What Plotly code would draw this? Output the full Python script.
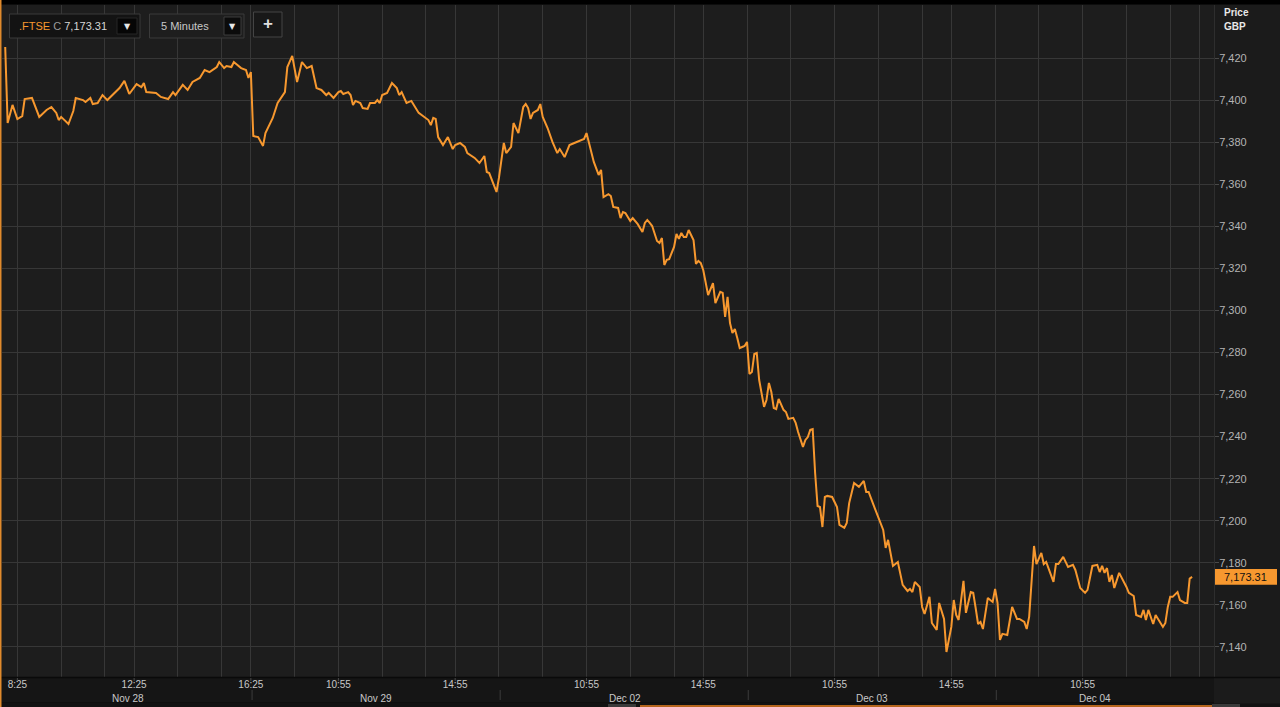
import plotly.graph_objects as go

W, H = 1280, 707

# ---------------- data ----------------
days = ["Nov 28", "Nov 29", "Dec 02", "Dec 03", "Dec 04"]

nov28_time = ["08:00", "08:05", "08:15", "08:25", "08:35", "08:40", "08:55", "09:10", "09:25", "09:35",
              "09:45", "09:50", "09:55", "10:10", "10:20", "10:25", "10:40", "10:45", "10:55", "11:00",
              "11:10", "11:20", "11:30", "11:45", "11:55", "12:05", "12:15", "12:30", "12:40", "12:45",
              "12:50", "13:10", "13:20", "13:35", "13:45", "13:50", "14:05", "14:15", "14:25", "14:40",
              "14:50", "15:00", "15:10", "15:15", "15:20", "15:30", "15:35", "15:45", "15:50", "16:05",
              "16:15", "16:20", "16:25"]
nov28_price = [7425.2, 7389.1, 7397.7, 7391.0, 7392.4, 7400.5, 7401.0, 7392.0, 7395.3, 7396.7,
               7393.9, 7390.5, 7392.0, 7388.6, 7394.8, 7401.0, 7400.0, 7399.1, 7401.0, 7398.1,
               7398.6, 7402.4, 7400.0, 7403.4, 7405.7, 7409.1, 7402.9, 7407.6, 7406.2, 7408.1,
               7403.8, 7403.4, 7401.5, 7400.5, 7403.8, 7402.4, 7407.2, 7404.8, 7408.6, 7410.5,
               7414.3, 7413.3, 7414.8, 7415.7, 7418.1, 7415.2, 7416.2, 7415.7, 7418.1, 7415.2,
               7414.3, 7410.5, 7413.3]

nov29_time = ["08:00", "08:10", "08:20", "08:25", "08:40", "08:50", "09:05", "09:10", "09:20", "09:30",
              "09:40", "09:50", "10:00", "10:10", "10:20", "10:30", "10:35", "10:45", "10:55", "11:00",
              "11:05", "11:15", "11:20", "11:25", "11:30", "11:40", "11:45", "11:55", "12:00", "12:10",
              "12:15", "12:20", "12:25", "12:35", "12:45", "12:55", "13:00", "13:05", "13:15", "13:25",
              "13:30", "13:40", "14:00", "14:05", "14:10", "14:15", "14:20", "14:30", "14:40", "14:50",
              "14:55", "15:05", "15:15", "15:20", "15:35", "15:45", "15:55", "16:00", "16:05", "16:20",
              "16:25"]
nov29_price = [7382.9, 7382.4, 7378.2, 7384.3, 7391.5, 7398.6, 7403.8, 7415.7, 7421.0, 7408.6,
               7418.1, 7415.2, 7416.2, 7405.7, 7404.8, 7402.4, 7403.4, 7401.0, 7403.8, 7404.3,
               7402.9, 7403.8, 7402.4, 7397.7, 7399.6, 7398.6, 7396.2, 7395.8, 7398.6, 7398.6,
               7400.0, 7398.6, 7402.4, 7403.4, 7408.1, 7405.7, 7402.4, 7403.8, 7398.6, 7399.6,
               7397.7, 7393.9, 7390.5, 7388.1, 7391.5, 7391.0, 7382.4, 7378.6, 7382.4, 7376.7,
               7378.6, 7379.6, 7377.7, 7374.8, 7372.5, 7370.1, 7373.4, 7365.8, 7365.3, 7356.3,
               7363.0]

dec02_time = ["08:05", "08:10", "08:20", "08:25", "08:35", "08:45", "08:50", "08:55", "09:00", "09:05",
              "09:15", "09:20", "09:25", "09:35", "09:45", "09:55", "10:00", "10:10", "10:20", "10:30",
              "10:40", "10:50", "10:55", "11:00", "11:10", "11:20", "11:25", "11:30", "11:40", "11:45",
              "11:50", "12:00", "12:05", "12:10", "12:15", "12:25", "12:30", "12:40", "12:50", "12:55",
              "13:00", "13:05", "13:10", "13:20", "13:25", "13:30", "13:35", "13:40", "13:45", "13:55",
              "14:00", "14:05", "14:10", "14:15", "14:20", "14:25", "14:35", "14:40", "14:45", "14:50",
              "14:55", "15:05", "15:15", "15:20", "15:30", "15:35", "15:40", "15:45", "15:50", "15:55",
              "16:00", "16:05", "16:10", "16:15", "16:20", "16:25"]
dec02_price = [7379.6, 7374.8, 7377.7, 7389.1, 7384.3, 7396.7, 7398.1, 7396.2, 7391.0, 7393.9,
               7395.3, 7398.1, 7392.0, 7386.7, 7380.1, 7374.8, 7376.7, 7372.9, 7378.6, 7379.6,
               7380.5, 7381.5, 7384.3, 7379.6, 7370.6, 7364.4, 7366.8, 7353.9, 7355.3, 7354.4,
               7349.2, 7348.7, 7343.9, 7346.8, 7346.3, 7342.5, 7343.9, 7341.1, 7337.3, 7341.6,
               7343.0, 7341.6, 7340.1, 7333.0, 7332.1, 7334.4, 7321.6, 7324.0, 7324.4, 7330.2,
               7336.3, 7334.0, 7336.8, 7334.9, 7334.9, 7338.2, 7333.5, 7322.1, 7323.5, 7322.5,
               7319.2, 7307.3, 7313.0, 7303.5, 7308.8, 7308.3, 7296.9, 7306.4, 7294.0, 7289.3,
               7291.2, 7286.9, 7282.1, 7282.6, 7283.1, 7285.0]

dec03_time = ["08:00", "08:05", "08:10", "08:15", "08:20", "08:30", "08:35", "08:40", "08:45", "08:50",
              "08:55", "09:00", "09:10", "09:15", "09:20", "09:30", "09:35", "09:40", "09:50", "09:55",
              "10:00", "10:05", "10:10", "10:15", "10:20", "10:25", "10:30", "10:35", "10:40", "10:50",
              "11:00", "11:05", "11:15", "11:20", "11:25", "11:30", "11:35", "11:45", "11:55", "12:00",
              "12:05", "12:15", "12:25", "12:35", "12:40", "12:45", "12:55", "13:05", "13:15", "13:25",
              "13:30", "13:35", "13:40", "13:50", "13:55", "14:00", "14:10", "14:15", "14:25", "14:30",
              "14:40", "14:45", "14:55", "15:00", "15:05", "15:10", "15:20", "15:25", "15:35", "15:40",
              "15:45", "15:50", "15:55", "16:00", "16:10", "16:20", "16:25"]
dec03_price = [7269.8, 7270.7, 7279.3, 7279.8, 7266.9, 7254.1, 7257.4, 7265.5, 7261.2, 7253.6,
               7253.1, 7257.9, 7252.7, 7251.7, 7248.4, 7248.9, 7246.5, 7242.2, 7235.1, 7238.4,
               7239.8, 7243.2, 7243.6, 7222.7, 7207.0, 7206.5, 7197.0, 7211.3, 7211.8, 7211.3,
               7206.5, 7198.0, 7196.6, 7198.9, 7208.4, 7213.2, 7217.9, 7216.1, 7218.9, 7213.7,
               7213.7, 7207.5, 7201.3, 7195.6, 7187.1, 7190.9, 7178.5, 7180.4, 7169.5, 7166.6,
               7167.6, 7166.1, 7170.9, 7168.5, 7159.0, 7155.7, 7163.8, 7151.4, 7148.1, 7160.9,
               7153.3, 7137.6, 7149.5, 7162.3, 7155.2, 7152.8, 7171.4, 7156.2, 7166.1, 7165.7,
               7158.5, 7150.9, 7151.9, 7148.5, 7163.3, 7161.4, 7167.6]

dec04_time = ["08:00", "08:05", "08:10", "08:20", "08:30", "08:40", "08:45", "08:55", "09:00", "09:05",
              "09:15", "09:20", "09:30", "09:35", "09:40", "09:55", "10:00", "10:05", "10:15", "10:25",
              "10:35", "10:40", "10:50", "11:00", "11:05", "11:15", "11:25", "11:30", "11:35", "11:40",
              "11:45", "11:50", "11:55", "12:00", "12:05", "12:10", "12:25", "12:30", "12:40", "12:45",
              "12:55", "13:00", "13:05", "13:10", "13:20", "13:25", "13:30", "13:40", "13:45", "13:50",
              "13:55", "14:00", "14:10", "14:15", "14:25", "14:30", "14:35", "14:40"]
dec04_price = [7160.9, 7143.3, 7146.2, 7145.7, 7159.0, 7153.3, 7153.3, 7151.9, 7148.5, 7154.3,
               7188.0, 7179.4, 7184.7, 7179.4, 7180.4, 7170.9, 7179.4, 7179.4, 7182.8, 7178.0,
               7179.0, 7176.6, 7168.0, 7165.7, 7167.1, 7178.5, 7179.0, 7175.6, 7178.5, 7175.2,
               7177.5, 7170.9, 7174.2, 7168.0, 7171.8, 7175.2, 7168.5, 7165.7, 7164.2, 7155.2,
               7154.3, 7157.6, 7152.8, 7157.6, 7150.9, 7155.2, 7153.3, 7149.5, 7151.4, 7159.0,
               7163.8, 7163.8, 7166.1, 7162.3, 7160.9, 7160.9, 7172.5, 7173.31]

# labelled time ticks (day index, time)
tick_day = [0, 0, 0, 1, 1, 2, 2, 3, 3, 4]
tick_time = ["08:25", "12:25", "16:25", "10:55", "14:55", "10:55", "14:55", "10:55", "14:55", "10:55"]
# vertical grid times
grid_first_day = ["08:25", "09:55", "11:25", "12:25", "13:55", "15:25", "16:25"]
grid_other_days = ["09:25", "10:55", "12:25", "13:55", "14:55", "16:25"]
y_ticks = list(range(7140, 7421, 20))

symbol = ".FTSE"
interval = "5 Minutes"

# ---------------- helpers ----------------
BARS_PER_DAY = 102  # 08:00 - 16:30, 5-minute bars
OPEN_MIN = 8 * 60


def to_bar(day_idx, hhmm):
    h, m = map(int, hhmm.split(":"))
    return day_idx * BARS_PER_DAY + (h * 60 + m - OPEN_MIN) / 5.0


def px(x):
    return x / W


def py(y):
    return 1 - y / H


times_by_day = [nov28_time, nov29_time, dec02_time, dec03_time, dec04_time]
prices_by_day = [nov28_price, nov29_price, dec02_price, dec03_price, dec04_price]

xs, ys = [], []
for i, (t, p) in enumerate(zip(times_by_day, prices_by_day)):
    assert len(t) == len(p), (days[i], len(t), len(p))
    xs += [to_bar(i, s) for s in t]
    ys += p

last_price = ys[-1]
last_txt = f"{last_price:,.2f}"

tickvals = [to_bar(d, t) for d, t in zip(tick_day, tick_time)]
ticktext = [t.lstrip("0") for t in tick_time]
grid_vals = [to_bar(0, t) for t in grid_first_day]
for d in range(1, len(days)):
    grid_vals += [to_bar(d, t) for t in grid_other_days]

ORANGE = "#f7982f"
GRID = "#373737"
FONT = "Liberation Sans, Arial, sans-serif"

fig = go.Figure()
fig.add_trace(go.Scatter(x=xs, y=ys, mode="lines",
                         line=dict(color=ORANGE, width=2),
                         hoverinfo="skip", showlegend=False))

fig.update_layout(
    width=W, height=H,
    margin=dict(l=0, r=0, t=0, b=0),
    paper_bgcolor="#1b1b1b",
    plot_bgcolor="#1d1d1d",
    font=dict(family=FONT, color="#c0c0c0", size=10),
    showlegend=False,
    xaxis=dict(
        domain=[px(2), px(1214)],
        range=[-1.32, 497.0],
        tickmode="array", tickvals=tickvals, ticktext=ticktext,
        showgrid=True, gridcolor=GRID, gridwidth=1,
        ticks="", ticklen=0,
        tickfont=dict(family=FONT, size=10, color="#c8c8c8"),
        minor=dict(tickmode="array", tickvals=grid_vals, showgrid=True,
                   gridcolor=GRID, gridwidth=1, ticks=""),
        showline=False, zeroline=False, fixedrange=True,
    ),
    yaxis=dict(
        domain=[py(677), py(5)],
        range=[7125.7, 7445.2],
        side="right",
        tickmode="array", tickvals=y_ticks,
        ticktext=[f"{v:,}" for v in y_ticks],
        showgrid=True, gridcolor=GRID, gridwidth=1,
        ticks="outside", ticklen=4, tickcolor="#4a4a4a",
        ticklabelstandoff=-2,
        tickfont=dict(family=FONT, size=11, color="#b4b4b4"),
        showline=True, linecolor="#2e2e2e", linewidth=1,
        zeroline=False, fixedrange=True,
    ),
)

shapes = []
# bottom axis band
shapes.append(dict(type="rect", xref="paper", yref="paper", x0=0, x1=px(1214),
                   y0=py(703), y1=py(677), fillcolor="#151515", line=dict(width=0), layer="below"))
shapes.append(dict(type="line", xref="paper", yref="paper", x0=0, x1=px(1280),
                   y0=py(677.5), y1=py(677.5), line=dict(color="#0a0a0a", width=1.5)))
shapes.append(dict(type="line", xref="paper", yref="paper", x0=0, x1=px(1214),
                   y0=py(703), y1=py(703), line=dict(color="#0a0a0a", width=1)))
# small tick marks under labelled times
for tv in tickvals:
    shapes.append(dict(type="line", xref="x", yref="paper", x0=tv, x1=tv,
                       y0=py(681), y1=py(678), line=dict(color="#4a4a4a", width=1)))
# bottom strip
shapes.append(dict(type="rect", xref="paper", yref="paper", x0=0, x1=1,
                   y0=0, y1=py(703.5), fillcolor="#121212", line=dict(width=0)))
shapes.append(dict(type="rect", xref="paper", yref="paper", x0=px(640), x1=px(1212),
                   y0=0, y1=py(705), fillcolor="#b5651d", line=dict(width=0)))
shapes.append(dict(type="rect", xref="paper", yref="paper", x0=px(608), x1=px(636),
                   y0=0, y1=py(704), fillcolor="#3a3a3a", line=dict(width=0)))
shapes.append(dict(type="rect", xref="paper", yref="paper", x0=px(1212), x1=px(1240),
                   y0=0, y1=py(704), fillcolor="#3a3a3a", line=dict(width=0)))
# top black strip
shapes.append(dict(type="rect", xref="paper", yref="paper", x0=0, x1=1,
                   y0=py(4.5), y1=1, fillcolor="#000000", line=dict(width=0)))
# orange frame edge
shapes.append(dict(type="rect", xref="paper", yref="paper", x0=0, x1=px(1.5),
                   y0=0, y1=1, fillcolor="#e08a2c", line=dict(width=0)))
# day separators in date row
for d in range(1, len(days)):
    xb = d * BARS_PER_DAY - 0.5
    shapes.append(dict(type="line", xref="x", yref="paper", x0=xb, x1=xb,
                       y0=py(700), y1=py(690), line=dict(color="#3c3c3c", width=1)))
# last-price tag
shapes.append(dict(type="rect", xref="paper", yref="y", x0=px(1215), x1=px(1277),
                   y0=last_price - 3.7, y1=last_price + 3.7,
                   fillcolor=ORANGE, line=dict(width=0)))


def box(x0, y0, x1, y1, fill, line):
    shapes.append(dict(type="rect", xref="paper", yref="paper", x0=px(x0), x1=px(x1),
                       y0=py(y1), y1=py(y0), fillcolor=fill, line=dict(color=line, width=1)))


box(9.5, 14, 140, 38, "#131313", "#3a3a3a")
box(117, 18, 137, 34, "#060606", "#262626")
box(149.5, 14, 244, 38, "#1e1e1e", "#3a3a3a")
box(224, 17, 241, 35, "#0b0b0b", "#3c3c3c")
box(253.5, 12, 282, 37, "#181818", "#444444")

annotations = []
for i, t in enumerate(times_by_day):
    mid = (to_bar(i, t[0]) + to_bar(i, t[-1])) / 2.0
    annotations.append(dict(x=mid, y=py(698.5), xref="x", yref="paper", text=days[i],
                            showarrow=False, font=dict(family=FONT, size=10, color="#c8c8c8"),
                            xanchor="center", yanchor="middle"))
annotations.append(dict(x=px(1222), y=py(12), xref="paper", yref="paper", text="<b>Price</b>",
                        showarrow=False, xanchor="left", yanchor="middle",
                        font=dict(family=FONT, size=10, color="#e8e8e8")))
annotations.append(dict(x=px(1222), y=py(27), xref="paper", yref="paper", text="<b>GBP</b>",
                        showarrow=False, xanchor="left", yanchor="middle",
                        font=dict(family=FONT, size=10, color="#e8e8e8")))
annotations.append(dict(x=px(1222), y=last_price, xref="paper", yref="y", text=last_txt,
                        showarrow=False, xanchor="left", yanchor="middle",
                        font=dict(family=FONT, size=11, color="#111111")))
annotations.append(dict(x=px(17), y=py(26), xref="paper", yref="paper",
                        text=(f"<span style='color:{ORANGE}'>{symbol}</span> "
                              f"<span style='color:#9a9a9a'>C</span> "
                              f"<span style='color:#d6d6d6'>{last_txt}</span>"),
                        showarrow=False, xanchor="left", yanchor="middle",
                        font=dict(family=FONT, size=11)))
annotations.append(dict(x=px(127), y=py(26), xref="paper", yref="paper", text="▼",
                        showarrow=False, xanchor="center", yanchor="middle",
                        font=dict(family="DejaVu Sans", size=8, color="#e6e6e6")))
annotations.append(dict(x=px(159), y=py(26), xref="paper", yref="paper", text=interval,
                        showarrow=False, xanchor="left", yanchor="middle",
                        font=dict(family=FONT, size=11, color="#c8c8c8")))
annotations.append(dict(x=px(232.5), y=py(26), xref="paper", yref="paper", text="▼",
                        showarrow=False, xanchor="center", yanchor="middle",
                        font=dict(family="DejaVu Sans", size=8, color="#e6e6e6")))
annotations.append(dict(x=px(267.5), y=py(24), xref="paper", yref="paper", text="<b>+</b>",
                        showarrow=False, xanchor="center", yanchor="middle",
                        font=dict(family=FONT, size=17, color="#dedede")))

fig.update_layout(shapes=shapes, annotations=annotations)
fig.write_html(
    "out.html",
    config={"displayModeBar": False, "staticPlot": True},
    post_script=("document.documentElement.style.margin='0';"
                 "document.body.style.margin='0';document.body.style.padding='0';"
                 "document.body.style.overflow='hidden';"),
)
